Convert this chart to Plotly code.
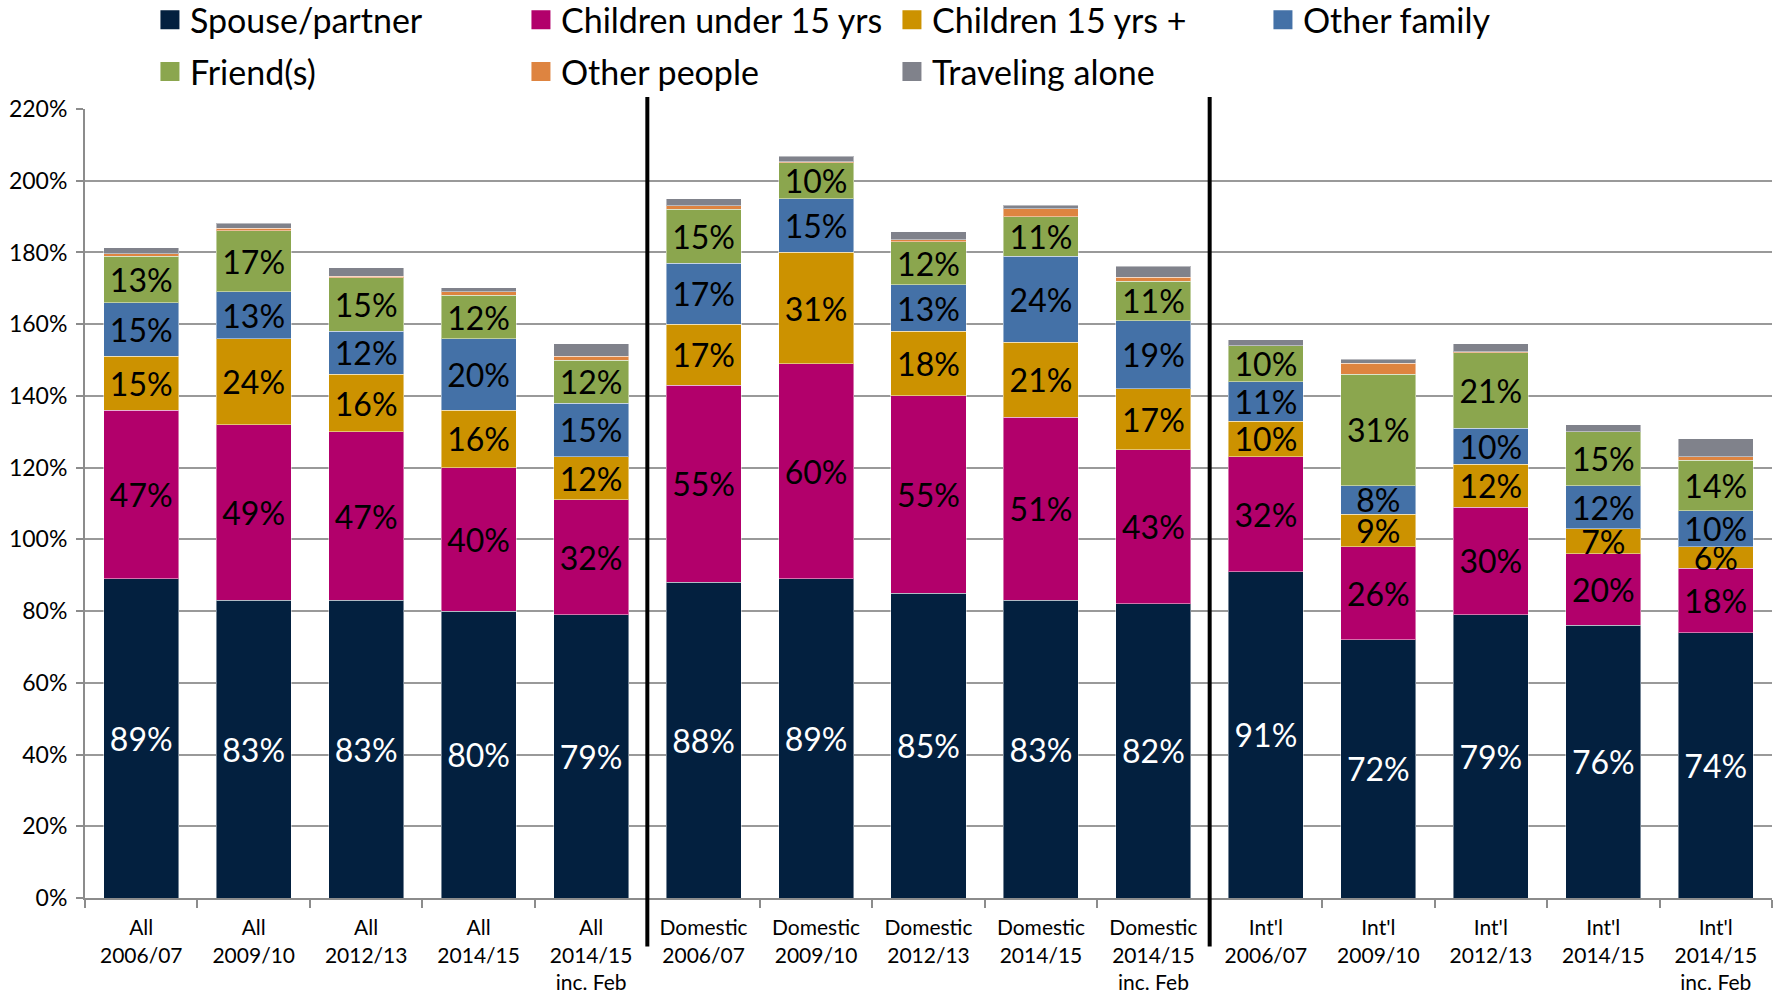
import plotly.graph_objects as go

categories = [
    "All<br>2006/07", "All<br>2009/10", "All<br>2012/13", "All<br>2014/15", "All<br>2014/15<br>inc. Feb",
    "Domestic<br>2006/07", "Domestic<br>2009/10", "Domestic<br>2012/13", "Domestic<br>2014/15", "Domestic<br>2014/15<br>inc. Feb",
    "Int'l<br>2006/07", "Int'l<br>2009/10", "Int'l<br>2012/13", "Int'l<br>2014/15", "Int'l<br>2014/15<br>inc. Feb",
]

spouse = [89, 83, 83, 80, 79, 88, 89, 85, 83, 82, 91, 72, 79, 76, 74]
children_under_15 = [47, 49, 47, 40, 32, 55, 60, 55, 51, 43, 32, 26, 30, 20, 18]
children_15_plus = [15, 24, 16, 16, 12, 17, 31, 18, 21, 17, 10, 9, 12, 7, 6]
other_family = [15, 13, 12, 20, 15, 17, 15, 13, 24, 19, 11, 8, 10, 12, 10]
friends = [13, 17, 15, 12, 12, 15, 10, 12, 11, 11, 10, 31, 21, 15, 14]
other_people = [0.6, 0.8, 0.3, 1.1, 1.0, 1.0, 0.3, 0.6, 2.2, 1.1, 0.0, 3.1, 0.3, 0.0, 1.1]
traveling_alone = [1.7, 1.4, 2.5, 1.1, 3.5, 2.0, 1.5, 2.2, 0.9, 3.0, 1.7, 1.1, 2.2, 2.0, 5.0]

series = [
    ("Spouse/partner", spouse, "#03203F", True, "white", "legend"),
    ("Children under 15 yrs", children_under_15, "#B2006B", True, "black", "legend"),
    ("Children 15 yrs +", children_15_plus, "#CC9200", True, "black", "legend"),
    ("Other family", other_family, "#4471A7", True, "black", "legend"),
    ("Friend(s)", friends, "#8BA64E", True, "black", "legend2"),
    ("Other people", other_people, "#DE8440", False, "black", "legend2"),
    ("Traveling alone", traveling_alone, "#80828B", False, "black", "legend2"),
]

FONT = "Lato, 'Open Sans', sans-serif"

fig = go.Figure()
for name, vals, color, labelled, tcolor, leg in series:
    fig.add_trace(go.Bar(
        name=name,
        x=categories,
        y=vals,
        marker=dict(color=color, line=dict(color="rgba(255,255,255,0.45)", width=1)),
        text=[f"{v:g}%" for v in vals] if labelled else None,
        textposition="inside" if labelled else "none",
        insidetextanchor="middle",
        textangle=0,
        constraintext="none",
        insidetextfont=dict(family=FONT, size=32, color=tcolor),
        hoverinfo="skip",
        showlegend=False,
        legendgroup=name,
    ))

# legend-only entries (larger square swatches)
for name, vals, color, labelled, tcolor, leg in series:
    fig.add_trace(go.Scatter(
        name=name,
        x=[None], y=[None],
        mode="markers",
        marker=dict(symbol="square", size=16, color=color, line=dict(color=color, width=3)),
        legend=leg,
        legendgroup=name,
        showlegend=True,
        hoverinfo="skip",
    ))

# separators between groups
for xpos in [4.5, 9.5]:
    fig.add_shape(type="line", xref="x", yref="paper", x0=xpos, x1=xpos,
                  y0=-0.0614, y1=1.0152, line=dict(color="black", width=4))

legend_common = dict(
    orientation="h",
    x=0.0385, xanchor="left",
    yanchor="middle",
    traceorder="normal",
    font=dict(family=FONT, size=34, color="black"),
    entrywidth=326, entrywidthmode="pixels",
    bgcolor="rgba(0,0,0,0)",
    itemsizing="trace",
)

fig.update_layout(
    width=1781, height=998,
    barmode="stack",
    bargap=0.333,
    plot_bgcolor="white",
    paper_bgcolor="white",
    margin=dict(l=85, r=9, t=109, b=100, autoexpand=False),
    font=dict(family=FONT, color="black"),
    uniformtext=dict(minsize=32, mode="show"),
    legend=dict(y=1.1127, **legend_common),
    legend2=dict(y=1.0469, **legend_common),
    showlegend=True,
)

fig.update_xaxes(
    type="category",
    showline=True, linecolor="#8C8C8C", linewidth=2,
    ticks="outside", tickson="boundaries", ticklen=8, tickcolor="#8C8C8C", tickwidth=1.5,
    tickfont=dict(family=FONT, size=21, color="black"),
    ticklabelstandoff=10,
    showgrid=False,
)
fig.update_yaxes(
    range=[0, 220], dtick=20, ticksuffix="%",
    showgrid=True, gridcolor="#999999", gridwidth=2,
    showline=True, linecolor="#8C8C8C", linewidth=2,
    ticks="outside", ticklen=7, tickcolor="#8C8C8C", tickwidth=1.5,
    tickfont=dict(family=FONT, size=23, color="black"),
    ticklabelstandoff=4,
    zeroline=False,
)

fig.write_html("out.html")
